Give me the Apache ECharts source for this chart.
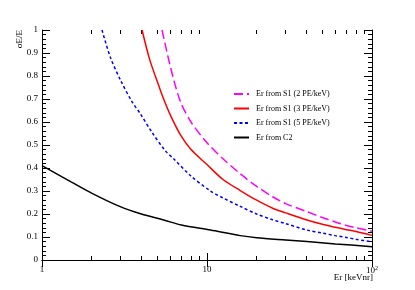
<!DOCTYPE html>
<html><head><meta charset="utf-8">
<script src="https://cdn.jsdelivr.net/npm/echarts@6/dist/echarts.min.js"></script>
<style>html,body{margin:0;padding:0;background:#fff}#c{width:415px;height:290px}</style>
</head><body><div id="c"></div>
<script>
// Data
const seriesNames = ['Er from S1 (2 PE/keV)', 'Er from S1 (3 PE/keV)', 'Er from S1 (5 PE/keV)', 'Er from C2'];
const erS1pe2 = [5.34, 6.0, 6.89, 8, 10, 12.5, 15.9, 20, 25, 30, 40.4, 50, 60, 70, 80, 100];
const sigS1pe2 = [1.0, 0.84, 0.69, 0.6, 0.51, 0.44, 0.375, 0.32, 0.275, 0.245, 0.21, 0.185, 0.165, 0.15, 0.14, 0.125];
const erS1pe3 = [4.04, 4.5, 5.09, 5.46, 6.0, 6.89, 8, 10, 12.5, 15.9, 20, 25, 30, 40.4, 50, 60, 70, 80, 100];
const sigS1pe3 = [1.0, 0.87, 0.76, 0.70, 0.63, 0.545, 0.48, 0.415, 0.35, 0.302, 0.26, 0.225, 0.205, 0.174, 0.155, 0.142, 0.132, 0.124, 0.107];
const erS1pe5 = [2.31, 2.6, 3.0, 3.5, 3.95, 4.64, 5.59, 6.28, 8, 10.5, 12.5, 15.9, 20, 25, 30, 40.4, 50, 60, 70, 80, 100];
const sigS1pe5 = [1.0, 0.88, 0.78, 0.69, 0.635, 0.555, 0.475, 0.44, 0.365, 0.3, 0.27, 0.233, 0.2, 0.175, 0.158, 0.13, 0.117, 0.106, 0.098, 0.09, 0.079];
const erC2 = [1, 1.5, 2.01, 2.98, 4, 5.46, 7, 10.5, 15.9, 20, 30, 40.4, 60, 100];
const sigC2 = [0.41, 0.34, 0.29, 0.232, 0.2, 0.174, 0.152, 0.13, 0.106, 0.097, 0.087, 0.08, 0.07, 0.058];
const xMajorTicks = [1, 10, 100];
const xMinorTicks = [2, 3, 4, 5, 6, 7, 8, 9, 20, 30, 40, 50, 60, 70, 80, 90];

const zip = (xs, ys) => xs.map((x, i) => [x, ys[i]]);
const font = '"Liberation Serif", "DejaVu Serif", serif';
const gridRect = {left: 42, right: 43, top: 30, bottom: 30};
const blk = {color: '#000', width: 1};

const chart = echarts.init(document.getElementById('c'), null, {renderer: 'canvas'});
const baseX = {type: 'log', logBase: 10, min: 1, max: 100, splitLine: {show: false}};
const baseY = {type: 'value', min: 0, max: 1, interval: 0.1, splitLine: {show: false}};
chart.setOption({
  animation: false,
  backgroundColor: '#fff',
  grid: [Object.assign({}, gridRect), Object.assign({}, gridRect)],
  xAxis: [
    Object.assign({}, baseX, {gridIndex: 0, position: 'bottom',
      axisLine: {show: true, lineStyle: blk},
      axisTick: {show: true, inside: true, length: 7, lineStyle: blk, customValues: xMajorTicks},
      axisLabel: {show: true, margin: 5, color: '#000', fontFamily: font, fontSize: 9,
        customValues: xMajorTicks,
        formatter: v => v >= 100 ? '{b|10}{s|2}' : String(v),
        rich: {b: {fontFamily: font, fontSize: 9, color: '#000'}, s: {fontFamily: font, fontSize: 6, color: '#000', padding: [0, 0, 6, 0]}}}}),
    Object.assign({}, baseX, {gridIndex: 0, position: 'top',
      axisLine: {show: true, lineStyle: blk},
      axisTick: {show: true, inside: true, length: 7, lineStyle: blk, customValues: xMajorTicks},
      axisLabel: {show: false}}),
    Object.assign({}, baseX, {gridIndex: 1, position: 'bottom',
      axisLine: {show: false},
      axisTick: {show: true, inside: true, length: 4, lineStyle: blk, customValues: xMinorTicks},
      axisLabel: {show: false}}),
    Object.assign({}, baseX, {gridIndex: 1, position: 'top',
      axisLine: {show: false},
      axisTick: {show: true, inside: true, length: 4, lineStyle: blk, customValues: xMinorTicks},
      axisLabel: {show: false}})
  ],
  yAxis: [
    Object.assign({}, baseY, {gridIndex: 0, position: 'left',
      axisLine: {show: true, lineStyle: blk},
      axisTick: {show: true, inside: true, length: 8, lineStyle: blk},
      minorTick: {show: true, splitNumber: 5, length: 4, lineStyle: blk},
      axisLabel: {show: true, margin: 4, color: '#000', fontFamily: font, fontSize: 9,
        formatter: v => String(Math.round(v * 10) / 10)}}),
    Object.assign({}, baseY, {gridIndex: 0, position: 'right',
      axisLine: {show: true, lineStyle: blk},
      axisTick: {show: true, inside: true, length: 8, lineStyle: blk},
      minorTick: {show: true, splitNumber: 5, length: 4, lineStyle: blk},
      axisLabel: {show: false}}),
    Object.assign({}, baseY, {gridIndex: 1, show: false})
  ],
  legend: {
    orient: 'vertical', left: 233, top: 89, padding: 0,
    itemWidth: 15, itemHeight: 10, itemGap: 4.5,
    itemStyle: {opacity: 0, borderWidth: 0},
    textStyle: {fontFamily: font, fontSize: 8, color: '#000', lineHeight: 10, padding: [0, 0, 0, 2]},
    data: seriesNames
  },
  graphic: [
    {type: 'text', x: 20, y: 30, rotation: Math.PI / 2,
      style: {text: 'σE/E', fontFamily: font, fontSize: 9, fill: '#000', align: 'right', verticalAlign: 'middle'}},
    {type: 'text', x: 373, y: 278,
      style: {text: 'Er [keVnr]', fontFamily: font, fontSize: 9, fill: '#000', align: 'right', verticalAlign: 'middle'}}
  ],
  series: [
    {name: seriesNames[0], type: 'line', data: zip(erS1pe2, sigS1pe2), smooth: 0.3, symbol: 'none', clip: true,
      lineStyle: {color: '#ff00ff', width: 1.5, type: [9, 4]}, itemStyle: {color: '#ff00ff'}},
    {name: seriesNames[1], type: 'line', data: zip(erS1pe3, sigS1pe3), smooth: 0.3, symbol: 'none', clip: true,
      lineStyle: {color: '#ff0000', width: 1.5}, itemStyle: {color: '#ff0000'}},
    {name: seriesNames[2], type: 'line', data: zip(erS1pe5, sigS1pe5), smooth: 0.3, symbol: 'none', clip: true,
      lineStyle: {color: '#0000ff', width: 1.5, type: [3, 2.5]}, itemStyle: {color: '#0000ff'}},
    {name: seriesNames[3], type: 'line', data: zip(erC2, sigC2), smooth: 0.3, symbol: 'none', clip: true,
      lineStyle: {color: '#000000', width: 1.5}, itemStyle: {color: '#000000'}}
  ]
});
</script></body></html>
